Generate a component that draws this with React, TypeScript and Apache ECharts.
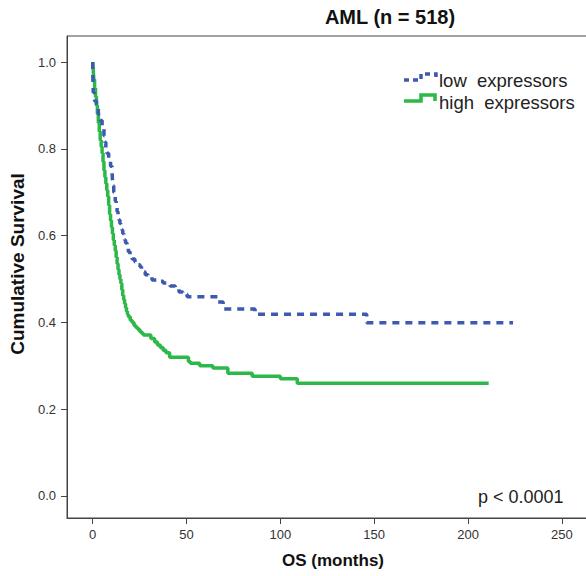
import React, { useEffect, useRef } from "react";
import * as echarts from "echarts";

// Kaplan-Meier curves (months, cumulative survival)
const lowTimes = [0, 0.1, 0.3, 1, 2, 3, 4, 5, 6, 6.5, 7, 7.6, 8.5, 9.5, 10.3, 10.5, 10.8, 11.2, 11.6, 12, 12.5, 13, 13.5, 14, 14.5, 15, 15.6, 16, 16.5, 17, 17.5, 18.3, 19, 19.9, 21, 22.5, 24, 25.2, 26, 26.8, 28, 29.5, 31.6, 34, 37.5, 41.2, 44, 46, 48, 50.3, 66.8, 69.5, 86.5, 146, 224];
const lowSurv = [1.0, 0.96, 0.93, 0.91, 0.895, 0.88, 0.865, 0.85, 0.83, 0.815, 0.8, 0.79, 0.775, 0.76, 0.75, 0.73, 0.715, 0.7, 0.69, 0.68, 0.67, 0.655, 0.645, 0.636, 0.628, 0.62, 0.613, 0.605, 0.597, 0.59, 0.583, 0.574, 0.563, 0.551, 0.546, 0.539, 0.533, 0.528, 0.522, 0.516, 0.51, 0.505, 0.498, 0.495, 0.491, 0.484, 0.477, 0.47, 0.465, 0.459, 0.447, 0.431, 0.419, 0.399, 0.399];

const highTimes = [0, 0.3, 0.6, 1, 1.5, 2, 2.5, 3, 3.5, 4, 4.5, 5, 5.5, 6, 6.5, 7, 7.5, 8, 8.5, 9, 9.5, 10, 10.5, 11, 11.5, 12, 12.5, 13, 13.5, 14, 14.5, 15, 15.5, 16, 16.5, 17, 17.5, 18, 18.5, 19, 20, 21, 22, 23, 24, 25, 26, 27, 31, 33, 34.5, 36, 37.5, 39, 41, 51, 52, 57, 64, 72, 85, 100, 109, 211];
const highSurv = [1.0, 0.98, 0.96, 0.94, 0.92, 0.9, 0.88, 0.86, 0.84, 0.82, 0.805, 0.79, 0.77, 0.75, 0.735, 0.72, 0.705, 0.69, 0.67, 0.65, 0.635, 0.62, 0.605, 0.59, 0.578, 0.565, 0.55, 0.535, 0.522, 0.51, 0.5, 0.49, 0.475, 0.462, 0.452, 0.443, 0.434, 0.426, 0.419, 0.413, 0.405, 0.4, 0.393, 0.388, 0.384, 0.379, 0.375, 0.371, 0.363, 0.355, 0.348, 0.342, 0.336, 0.33, 0.32, 0.31, 0.306, 0.3, 0.295, 0.283, 0.276, 0.27, 0.26, 0.26];

const xTicks = [0, 50, 100, 150, 200, 250];
const yTicks = [0, 0.2, 0.4, 0.6, 0.8, 1.0];

const seriesNames = ["low  expressors", "high  expressors"];
const titleText = "AML (n = 518)";
const xLabel = "OS (months)";
const yLabel = "Cumulative Survival";
const pText = "p < 0.0001";

const BLUE = "#3d59b0";
const GREEN = "#2db84a";
const FONT = "Liberation Sans, Arial, sans-serif";

export default function App() {
  const ref = useRef<HTMLDivElement>(null);
  useEffect(() => {
    if (!ref.current) return;
    const chart = echarts.init(ref.current, null, { renderer: "svg" });
    const low = lowTimes.map((t, i) => [t, lowSurv[i]]);
    const high = highTimes.map((t, i) => [t, highSurv[i]]);
    chart.setOption({
      animation: false,
      backgroundColor: "#ffffff",
      grid: {
        left: 67,
        top: 36,
        right: -4,
        bottom: 58,
        show: true,
        borderColor: "#444",
        borderWidth: 1,
        outerBoundsMode: "none",
        containLabel: false,
      },
      xAxis: {
        type: "value",
        min: -13.7,
        max: 265,
        splitLine: { show: false },
        axisLine: { show: true, onZero: false, lineStyle: { color: "#444", width: 1 } },
        axisTick: { show: true, length: 6, customValues: xTicks, lineStyle: { color: "#444" } },
        axisLabel: {
          customValues: xTicks,
          margin: 10,
          fontSize: 13,
          color: "#333",
          fontFamily: FONT,
        },
      },
      yAxis: {
        type: "value",
        min: -0.0507,
        max: 1.06,
        splitLine: { show: false },
        axisLine: { show: true, onZero: false, lineStyle: { color: "#444", width: 1 } },
        axisTick: { show: true, length: 6, customValues: yTicks, lineStyle: { color: "#444" } },
        axisLabel: {
          customValues: yTicks,
          margin: 11,
          fontSize: 13,
          color: "#333",
          fontFamily: FONT,
          formatter: (v: number) => v.toFixed(1),
        },
      },
      series: [
        {
          name: seriesNames[0],
          type: "line",
          step: "end",
          data: low,
          showSymbol: false,
          symbol: "none",
          lineStyle: { color: BLUE, width: 3.5, type: [7, 6], cap: "butt" },
          z: 3,
        },
        {
          name: seriesNames[1],
          type: "line",
          step: "end",
          data: high,
          showSymbol: false,
          symbol: "none",
          lineStyle: { color: GREEN, width: 3.5, type: "solid" },
          z: 2,
        },
      ],
      graphic: [
        {
          type: "text",
          x: 390,
          y: 17,
          style: {
            text: titleText,
            font: `bold 20px ${FONT}`,
            fill: "#111",
            align: "center",
            verticalAlign: "middle",
          },
        },
        {
          type: "text",
          x: 17,
          y: 264,
          rotation: Math.PI / 2,
          style: {
            text: yLabel,
            font: `bold 19px ${FONT}`,
            fill: "#111",
            align: "center",
            verticalAlign: "middle",
          },
        },
        {
          type: "text",
          x: 333,
          y: 560,
          style: {
            text: xLabel,
            font: `bold 17px ${FONT}`,
            fill: "#111",
            align: "center",
            verticalAlign: "middle",
          },
        },
        {
          type: "text",
          x: 478,
          y: 497,
          style: { text: pText, font: `18px ${FONT}`, fill: "#222", verticalAlign: "middle" },
        },
        {
          type: "polyline",
          shape: { points: [[404, 80], [421, 80], [421, 74], [436, 74], [436, 80]] },
          style: { stroke: BLUE, lineWidth: 3.5, lineDash: [5, 4], fill: null },
        },
        {
          type: "polyline",
          shape: { points: [[404, 101], [421, 101], [421, 95], [435, 95], [435, 101]] },
          style: { stroke: GREEN, lineWidth: 3.5, fill: null },
        },
        {
          type: "text",
          x: 439,
          y: 80,
          style: { text: seriesNames[0], font: `18.5px ${FONT}`, fill: "#222", verticalAlign: "middle" },
        },
        {
          type: "text",
          x: 439,
          y: 102,
          style: { text: seriesNames[1], font: `18.5px ${FONT}`, fill: "#222", verticalAlign: "middle" },
        },
      ],
    });
    return () => chart.dispose();
  }, []);
  return (
    <div
      ref={ref}
      style={{ position: "absolute", left: 0, top: 0, width: 586, height: 576 }}
    />
  );
}
